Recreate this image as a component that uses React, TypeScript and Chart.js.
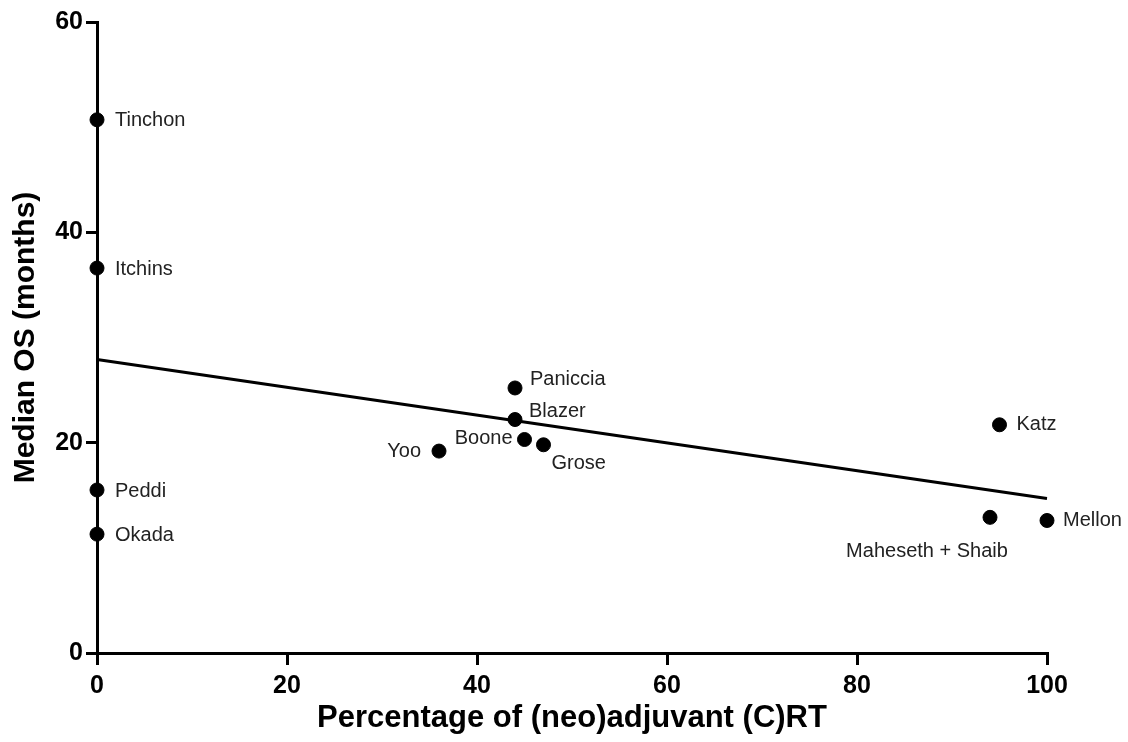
import React, { useEffect, useRef } from "react";
import { Chart, registerables } from "chart.js";

Chart.register(...registerables);

const studyNames = ["Tinchon", "Itchins", "Peddi", "Okada", "Paniccia", "Blazer", "Boone", "Grose", "Yoo", "Katz", "Maheseth + Shaib", "Mellon"];
const crtPercent = [0, 0, 0, 0, 44, 44, 45, 47, 36, 95, 94, 100];
const medianOS = [50.7, 36.6, 15.5, 11.3, 25.2, 22.2, 20.3, 19.8, 19.2, 21.7, 12.9, 12.6];
const fitX = [0, 100];
const fitY = [27.9, 14.7];

const FONT = "'Liberation Sans', Arial, sans-serif";

// label placement (style only): [dx, dy, align]
const labelPlacement: Record<string, [number, number, CanvasTextAlign]> = {
  "Tinchon": [18, 1, "left"],
  "Itchins": [18, 1, "left"],
  "Peddi": [18, 1, "left"],
  "Okada": [18, 1, "left"],
  "Paniccia": [15, -8, "left"],
  "Blazer": [14, -8, "left"],
  "Boone": [-12, -1, "right"],
  "Grose": [8, 19, "left"],
  "Yoo": [-18, 0, "right"],
  "Katz": [17, 0, "left"],
  "Maheseth + Shaib": [-63, 34, "center"],
  "Mellon": [16, 0, "left"],
};

const nameLabels = {
  id: "nameLabels",
  afterDatasetsDraw(chart: any) {
    const meta = chart.getDatasetMeta(0);
    const ctx = chart.ctx;
    ctx.save();
    ctx.font = `20px ${FONT}`;
    ctx.fillStyle = "#222";
    ctx.textBaseline = "middle";
    meta.data.forEach((pt: any, i: number) => {
      const name = studyNames[i];
      const [dx, dy, align] = labelPlacement[name] || [16, 0, "left"];
      ctx.textAlign = align;
      ctx.fillText(name, pt.x + dx, pt.y + dy);
    });
    ctx.restore();
  },
};

export default function App() {
  const ref = useRef<HTMLCanvasElement>(null);
  useEffect(() => {
    if (!ref.current) return;
    const chart = new Chart(ref.current, {
      type: "scatter",
      data: {
        datasets: [
          {
            label: "Studies",
            data: crtPercent.map((x, i) => ({ x, y: medianOS[i] })),
            backgroundColor: "#000",
            borderColor: "#000",
            pointRadius: 7,
            pointHoverRadius: 7,
            clip: false as any,
          },
          {
            type: "line" as any,
            label: "Fit",
            data: fitX.map((x, i) => ({ x, y: fitY[i] })),
            borderColor: "#000",
            borderWidth: 3,
            pointRadius: 0,
            showLine: true,
            fill: false,
            clip: false as any,
          },
        ],
      },
      options: {
        animation: false,
        responsive: true,
        maintainAspectRatio: false,
        layout: { padding: { left: 0, right: 81, top: 22, bottom: 0 } },
        plugins: { legend: { display: false }, tooltip: { enabled: false } },
        scales: {
          x: {
            type: "linear",
            min: 0,
            max: 100,
            ticks: { stepSize: 20, color: "#000", font: { family: FONT, size: 25, weight: "bold" }, padding: 6 },
            grid: { drawOnChartArea: false, drawTicks: true, tickLength: 12, color: "#000", lineWidth: 3 },
            border: { display: true, color: "#000", width: 3 },
            title: {
              display: true,
              text: "Percentage of (neo)adjuvant (C)RT",
              color: "#000",
              font: { family: FONT, size: 31, weight: "bold" },
              padding: { top: 0, bottom: 5 },
            },
            afterFit(scale: any) {
              scale.height = 89;
            },
          },
          y: {
            type: "linear",
            min: 0,
            max: 60,
            ticks: { stepSize: 20, color: "#000", font: { family: FONT, size: 25, weight: "bold" }, padding: 3 },
            grid: { drawOnChartArea: false, drawTicks: true, tickLength: 11, color: "#000", lineWidth: 3 },
            border: { display: true, color: "#000", width: 3 },
            title: {
              display: true,
              text: "Median OS (months)",
              color: "#000",
              font: { family: FONT, size: 30, weight: "bold" },
              padding: { top: 8, bottom: 0 },
            },
            afterFit(scale: any) {
              scale.width = 97;
            },
          },
        },
      },
      plugins: [nameLabels],
    });
    return () => chart.destroy();
  }, []);
  return (
    <div style={{ position: "fixed", left: 0, top: 0, width: 1128, height: 742, background: "#fff" }}>
      <canvas ref={ref} />
    </div>
  );
}
